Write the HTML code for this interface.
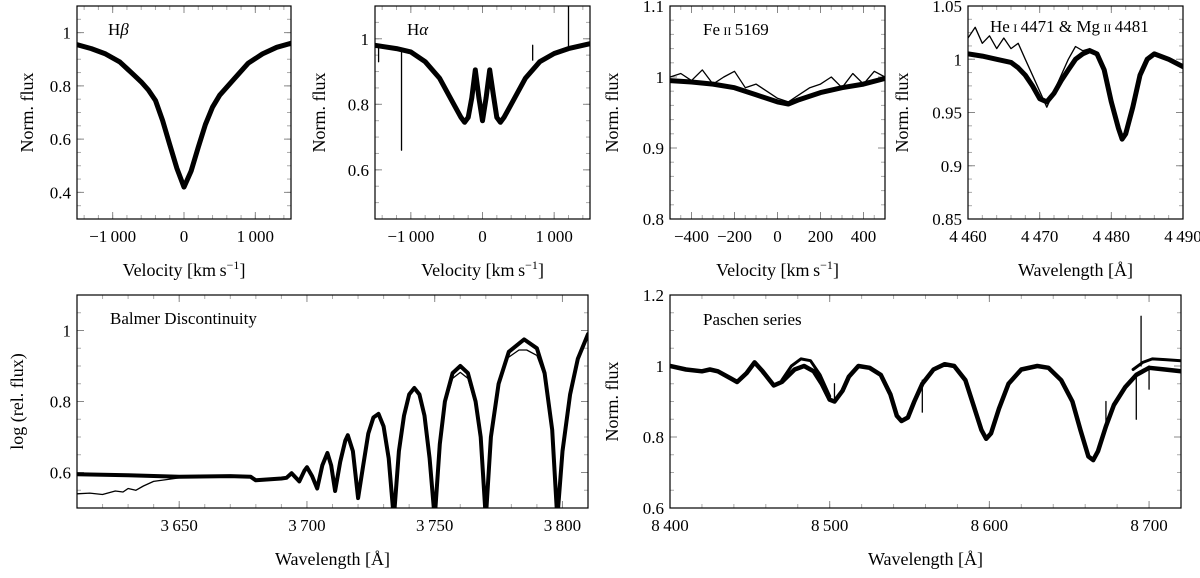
<!DOCTYPE html>
<html><head><meta charset="utf-8"><style>
html,body{margin:0;padding:0;background:#fff}
svg, svg text{font-family:"Liberation Serif","DejaVu Serif",serif}
</style></head><body>
<svg id="fig" width="1200" height="573" viewBox="0 0 1200 573" xmlns="http://www.w3.org/2000/svg" font-family="Liberation Serif, serif"></svg>
<script>
// ---------- data ----------
const hbVel  = [-1500,-1300,-1100,-900,-700,-600,-500,-400,-300,-200,-100,0,100,200,300,400,500,600,700,900,1100,1300,1500];
const hbFlux = [0.955,0.94,0.92,0.89,0.84,0.815,0.785,0.745,0.67,0.58,0.49,0.42,0.48,0.57,0.655,0.72,0.765,0.795,0.825,0.885,0.92,0.945,0.96];

const haVel  = [-1500,-1200,-1000,-800,-600,-400,-300,-250,-200,-150,-100,-50,0,50,100,150,200,250,300,400,600,800,1000,1200,1500];
const haFlux = [0.98,0.97,0.96,0.93,0.88,0.80,0.76,0.745,0.76,0.82,0.905,0.82,0.75,0.82,0.905,0.83,0.76,0.745,0.76,0.80,0.88,0.93,0.955,0.97,0.985];
const haSpikes = [[-1130,0.97,0.66],[-1450,0.98,0.93],[1200,0.975,1.12],[700,0.935,0.98]];

const feVel   = [-500,-400,-300,-200,-100,0,50,100,200,300,400,500];
const feFluxA = [0.995,0.993,0.99,0.985,0.975,0.965,0.962,0.968,0.978,0.985,0.99,0.998];
const feVelB  = [-500,-450,-400,-350,-300,-250,-200,-150,-100,-50,0,50,100,150,200,250,300,350,400,450,500];
const feFluxB = [1.0,1.005,0.995,1.01,0.99,1.0,1.008,0.985,0.99,0.98,0.97,0.965,0.975,0.985,0.99,1.0,0.985,1.005,0.99,1.008,1.0];

const heWl    = [4460,4462,4464,4466,4467,4468,4469,4470,4471,4472,4473,4474,4475,4476,4477,4478,4479,4480,4481,4481.5,4482,4483,4484,4485,4486,4488,4490];
const heFluxA = [1.005,1.003,1.0,0.997,0.992,0.985,0.975,0.963,0.96,0.968,0.98,0.99,1.0,1.005,1.008,1.005,0.99,0.96,0.935,0.925,0.93,0.955,0.985,1.0,1.005,1.0,0.993];
const heWlB   = [4460,4461,4462,4463,4464,4465,4466,4467,4468,4469,4470,4471,4472,4473,4474,4475,4476,4477];
const heFluxB = [1.02,1.03,1.015,1.022,1.01,1.02,1.01,1.015,1.0,0.985,0.97,0.955,0.97,0.985,1.0,1.012,1.008,1.01];

const bdWl   = [3610,3630,3650,3670,3678,3680,3690,3692,3694,3697,3699,3700,3702,3704,3706,3708,3709.5,3711,3713,3715,3716,3718,3720,3722,3724,3726,3728,3730,3732,3734,3736,3738,3740,3742,3744,3746,3748,3750,3752,3754,3757,3760,3763,3766,3768,3770,3772,3775,3779,3785,3790,3793,3796,3798,3800,3803,3806,3810];
const bdFlux = [0.595,0.592,0.588,0.59,0.588,0.578,0.583,0.585,0.598,0.575,0.605,0.615,0.59,0.555,0.62,0.655,0.62,0.548,0.63,0.69,0.705,0.66,0.528,0.62,0.71,0.755,0.765,0.73,0.64,0.47,0.66,0.76,0.82,0.838,0.82,0.76,0.64,0.47,0.68,0.8,0.88,0.9,0.88,0.8,0.7,0.47,0.7,0.85,0.94,0.975,0.95,0.88,0.72,0.47,0.66,0.82,0.92,0.99];
const bdLowWl   = [3610,3615,3620,3625,3628,3630,3633,3636,3640,3645,3650];
const bdLowFlux = [0.54,0.542,0.538,0.548,0.545,0.555,0.55,0.562,0.575,0.58,0.585];
const bdTop1Wl   = [3754,3757,3760,3763,3766];
const bdTop1Flux = [0.79,0.865,0.882,0.865,0.79];
const bdTop2Wl   = [3779,3783,3786,3790,3793];
const bdTop2Flux = [0.925,0.945,0.945,0.93,0.87];

const paWl   = [8400,8410,8420,8425,8430,8438,8442,8448,8453,8458,8465,8470,8478,8484,8490,8495,8500,8503,8508,8512,8518,8525,8532,8538,8542,8545,8549,8553,8558,8565,8572,8578,8585,8590,8595,8598,8601,8606,8612,8620,8630,8637,8645,8652,8657,8662,8665,8668,8673,8678,8685,8692,8700,8710,8720];
const paFlux = [1.0,0.99,0.985,0.99,0.985,0.965,0.955,0.98,1.01,0.985,0.945,0.955,0.99,1.0,0.985,0.95,0.905,0.9,0.93,0.97,1.0,0.995,0.975,0.92,0.86,0.845,0.855,0.9,0.95,0.99,1.005,1.0,0.96,0.89,0.82,0.795,0.81,0.88,0.95,0.99,1.0,0.995,0.96,0.9,0.82,0.745,0.735,0.76,0.83,0.89,0.94,0.975,0.995,0.99,0.985];
const paAlt1Wl   = [8470,8476,8482,8488,8494,8500];
const paAlt1Flux = [0.96,1.0,1.02,1.015,0.975,0.915];
const paAlt2Wl   = [8690,8696,8702,8710,8720];
const paAlt2Flux = [0.99,1.01,1.02,1.018,1.015];
const paSpikes = [[8503,0.91,0.95],[8558,0.96,0.87],[8695,1.0,1.14],[8692,0.98,0.85],[8700,1.0,0.935],[8673,0.83,0.9]];

// tick labels
const hbYTicks = [0.4,0.6,0.8,1];       const hbYLabels = ["0.4","0.6","0.8","1"];
const velXTicks = [-1000,0,1000];        const velXLabels = ["\u22121\u2009000","0","1\u2009000"];
const haYTicks = [0.6,0.8,1];            const haYLabels = ["0.6","0.8","1"];
const feYTicks = [0.8,0.9,1,1.1];        const feYLabels = ["0.8","0.9","1","1.1"];
const feXTicks = [-400,-200,0,200,400];  const feXLabels = ["\u2212400","\u2212200","0","200","400"];
const heYTicks = [0.85,0.9,0.95,1,1.05]; const heYLabels = ["0.85","0.9","0.95","1","1.05"];
const heXTicks = [4460,4470,4480,4490];  const heXLabels = ["4\u2009460","4\u2009470","4\u2009480","4\u2009490"];
const bdYTicks = [0.6,0.8,1];            const bdYLabels = ["0.6","0.8","1"];
const bdXTicks = [3650,3700,3750,3800];  const bdXLabels = ["3\u2009650","3\u2009700","3\u2009750","3\u2009800"];
const paYTicks = [0.6,0.8,1,1.2];        const paYLabels = ["0.6","0.8","1","1.2"];
const paXTicks = [8400,8500,8600,8700];  const paXLabels = ["8\u2009400","8\u2009500","8\u2009600","8\u2009700"];

// ---------- drawing ----------
const NS = "http://www.w3.org/2000/svg";
const svg = document.getElementById("fig");
const FF = '"Liberation Serif", "DejaVu Serif", serif';
function mk(tag, attrs, parent) {
  const e = document.createElementNS(NS, tag);
  for (const k in attrs) e.setAttribute(k, attrs[k]);
  if (tag === "text") e.style.fontFamily = FF;
  (parent || svg).appendChild(e);
  return e;
}
let clipId = 0;
function makePanel(c) {
  const g = mk("g", {});
  
  
  const sx = v => c.x0 + (v - c.xmin) / (c.xmax - c.xmin) * (c.x1 - c.x0);
  const sy = v => c.y1 - (v - c.ymin) / (c.ymax - c.ymin) * (c.y1 - c.y0);
  const id = "clip" + (clipId++);
  const cp = mk("clipPath", {id: id}, g);
  mk("rect", {x: c.x0, y: c.y0, width: c.x1 - c.x0, height: c.y1 - c.y0}, cp);
  const tg = mk("g", {stroke: "#aaa", "stroke-width": 1}, g);
  
  
  for (let v = c.xMinStart; v <= c.xmax + 1e-9; v += c.xMinor) {
    const x = sx(v);
    mk("line", {x1: x, x2: x, y1: c.y1, y2: c.y1 - 4}, tg);
    mk("line", {x1: x, x2: x, y1: c.y0, y2: c.y0 + 4}, tg);
  }
  for (let v = c.yMinStart; v <= c.ymax + 1e-9; v += c.yMinor) {
    const y = sy(v);
    mk("line", {x1: c.x0, x2: c.x0 + 4, y1: y, y2: y}, tg);
    mk("line", {x1: c.x1, x2: c.x1 - 4, y1: y, y2: y}, tg);
  }
  const mg = mk("g", {stroke: "#888", "stroke-width": 1}, g);
  c.xTicks.forEach((v, i) => {
    const x = sx(v);
    mk("line", {x1: x, x2: x, y1: c.y1, y2: c.y1 - 7}, mg);
    mk("line", {x1: x, x2: x, y1: c.y0, y2: c.y0 + 7}, mg);
    const t = mk("text", {x: x, y: c.xLabY, "text-anchor": "middle", "font-size": 17}, g);
    t.textContent = c.xLabels[i];
    
    
  });
  c.yTicks.forEach((v, i) => {
    const y = sy(v);
    mk("line", {x1: c.x0, x2: c.x0 + 7, y1: y, y2: y}, mg);
    mk("line", {x1: c.x1, x2: c.x1 - 7, y1: y, y2: y}, mg);
    const t = mk("text", {x: c.x0 - 6, y: y + 6, "text-anchor": "end", "font-size": 17}, g);
    t.textContent = c.yLabels[i];
    
    
  });
  const sg = mk("g", {"clip-path": "url(#" + id + ")", fill: "none", stroke: "#000", "stroke-linejoin": "round", "stroke-linecap": "round"}, g);
  c.series.forEach(s => {
    let d = "";
    s.x.forEach((v, i) => { d += (i ? "L" : "M") + sx(v).toFixed(1) + "," + sy(s.y[i]).toFixed(1); });
    const p = mk("path", {d: d, "stroke-width": s.w}, sg);
    
    
  });
  (c.spikes || []).forEach(sp => {
    const l = mk("line", {x1: sx(sp[0]), x2: sx(sp[0]), y1: sy(sp[1]), y2: sy(sp[2]), "stroke-width": 1.3}, sg);
    
    
  });
  const fr = mk("rect", {x: c.x0, y: c.y0, width: c.x1 - c.x0, height: c.y1 - c.y0, fill: "none", stroke: "#000", "stroke-width": 1.2}, g);
  
  
  const yt = mk("text", {x: 0, y: 0, transform: "translate(" + c.yTitleX + "," + (c.y0 + c.y1) / 2 + ") rotate(-90)", "text-anchor": "middle", "font-size": 18}, g);
  yt.textContent = c.yTitle;
  
  
  const xt = mk("text", {x: (c.x0 + c.x1) / 2, y: c.xTitleY, "text-anchor": "middle", "font-size": 18}, g);
  xt.innerHTML = c.xTitle;
  
  
  const lt = mk("text", {x: c.labX, y: c.labY, "font-size": 17}, g);
  lt.innerHTML = c.label;
  
  
}
const velTitle = 'Velocity [km\u2009s<tspan dy="-7" font-size="12">\u22121</tspan><tspan dy="7">]</tspan>';
const wlTitle = 'Wavelength [\u00C5]';
const sc = s => '<tspan font-size="12">' + s + '</tspan>';

makePanel({name: "hbeta-panel", x0: 77, x1: 291, y0: 6, y1: 219, xmin: -1500, xmax: 1500, ymin: 0.3, ymax: 1.1,
  xTicks: velXTicks, xLabels: velXLabels, yTicks: hbYTicks, yLabels: hbYLabels, xMinor: 200, xMinStart: -1400, yMinor: 0.05, yMinStart: 0.3,
  xLabY: 242, xTitleY: 276, yTitleX: 33, yTitle: "Norm. flux", xTitle: velTitle, labX: 108, labY: 35,
  label: 'H<tspan font-style="italic">\u03B2</tspan>',
  series: [{name: "hbeta-spectra", x: hbVel, y: hbFlux, w: 5}]});

makePanel({name: "halpha-panel", x0: 375, x1: 590, y0: 6, y1: 219, xmin: -1500, xmax: 1500, ymin: 0.45, ymax: 1.1,
  xTicks: velXTicks, xLabels: velXLabels, yTicks: haYTicks, yLabels: haYLabels, xMinor: 200, xMinStart: -1400, yMinor: 0.05, yMinStart: 0.45,
  xLabY: 242, xTitleY: 276, yTitleX: 325, yTitle: "Norm. flux", xTitle: velTitle, labX: 407, labY: 35,
  label: 'H<tspan font-style="italic">\u03B1</tspan>',
  series: [{name: "halpha-spectra", x: haVel, y: haFlux, w: 5}], spikes: haSpikes});

makePanel({name: "feii-panel", x0: 670, x1: 885, y0: 6, y1: 219, xmin: -500, xmax: 500, ymin: 0.8, ymax: 1.1,
  xTicks: feXTicks, xLabels: feXLabels, yTicks: feYTicks, yLabels: feYLabels, xMinor: 50, xMinStart: -500, yMinor: 0.02, yMinStart: 0.8,
  xLabY: 242, xTitleY: 276, yTitleX: 618, yTitle: "Norm. flux", xTitle: velTitle, labX: 703, labY: 35,
  label: 'Fe\u2009' + sc('II') + '\u20095169',
  series: [{name: "feii-spectra-mean", x: feVel, y: feFluxA, w: 5}, {name: "feii-spectra-noisy", x: feVelB, y: feFluxB, w: 1.3}]});

makePanel({name: "hei-mgii-panel", x0: 968, x1: 1183, y0: 6, y1: 219, xmin: 4460, xmax: 4490, ymin: 0.85, ymax: 1.05,
  xTicks: heXTicks, xLabels: heXLabels, yTicks: heYTicks, yLabels: heYLabels, xMinor: 2, xMinStart: 4460, yMinor: 0.0125, yMinStart: 0.85,
  xLabY: 242, xTitleY: 276, yTitleX: 908, yTitle: "Norm. flux", xTitle: wlTitle, labX: 990, labY: 32,
  label: 'He\u2009' + sc('I') + '\u20094471 &amp; Mg\u2009' + sc('II') + '\u20094481',
  series: [{name: "he-mg-spectra-mean", x: heWl, y: heFluxA, w: 5}, {name: "he-mg-spectra-noisy", x: heWlB, y: heFluxB, w: 1.3}]});

makePanel({name: "balmer-panel", x0: 77, x1: 588, y0: 295, y1: 508, xmin: 3610, xmax: 3810, ymin: 0.5, ymax: 1.1,
  xTicks: bdXTicks, xLabels: bdXLabels, yTicks: bdYTicks, yLabels: bdYLabels, xMinor: 10, xMinStart: 3610, yMinor: 0.05, yMinStart: 0.5,
  xLabY: 531, xTitleY: 565, yTitleX: 23, yTitle: "log (rel. flux)", xTitle: wlTitle, labX: 110, labY: 324,
  label: 'Balmer Discontinuity',
  series: [{name: "balmer-spectra", x: bdWl, y: bdFlux, w: 4}, {name: "balmer-low-start", x: bdLowWl, y: bdLowFlux, w: 1.3},
           {name: "balmer-low-peak-1", x: bdTop1Wl, y: bdTop1Flux, w: 1.3}, {name: "balmer-low-peak-2", x: bdTop2Wl, y: bdTop2Flux, w: 1.3}]});

makePanel({name: "paschen-panel", x0: 670, x1: 1181, y0: 295, y1: 508, xmin: 8400, xmax: 8720, ymin: 0.6, ymax: 1.2,
  xTicks: paXTicks, xLabels: paXLabels, yTicks: paYTicks, yLabels: paYLabels, xMinor: 20, xMinStart: 8400, yMinor: 0.05, yMinStart: 0.6,
  xLabY: 531, xTitleY: 565, yTitleX: 618, yTitle: "Norm. flux", xTitle: wlTitle, labX: 703, labY: 325,
  label: 'Paschen series',
  series: [{name: "paschen-spectra", x: paWl, y: paFlux, w: 4.5}, {name: "paschen-alt-branch-1", x: paAlt1Wl, y: paAlt1Flux, w: 3},
           {name: "paschen-alt-branch-2", x: paAlt2Wl, y: paAlt2Flux, w: 3}], spikes: paSpikes});
</script>
</body></html>
